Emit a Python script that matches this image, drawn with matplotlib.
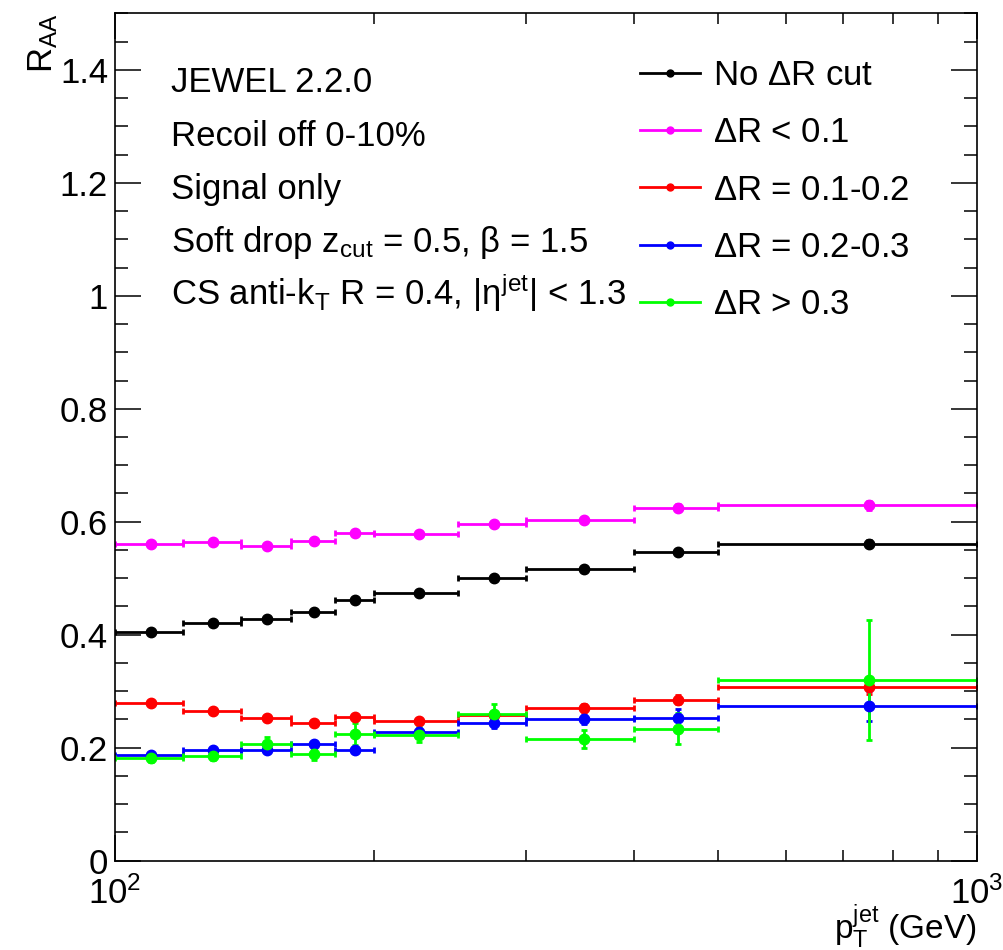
import matplotlib
matplotlib.use("Agg")
import matplotlib.pyplot as plt
import numpy as np
from matplotlib.lines import Line2D
from matplotlib.ticker import FixedLocator, MultipleLocator, FormatStrFormatter, LogLocator, NullFormatter

plt.rcParams['font.family'] = ['Liberation Sans', 'DejaVu Sans']
plt.rcParams['mathtext.fontset'] = 'custom'
plt.rcParams['mathtext.rm'] = 'Liberation Sans'
plt.rcParams['mathtext.it'] = 'Liberation Sans'
plt.rcParams['mathtext.bf'] = 'Liberation Sans:bold'

# pT bins (GeV)
bin_edges = [100, 120, 140, 160, 180, 200, 250, 300, 400, 500, 1000]

# R_AA per bin
no_cut = [0.405, 0.420, 0.427, 0.441, 0.461, 0.473, 0.500, 0.517, 0.547, 0.561]
no_cut_err = [0.002, 0.002, 0.002, 0.003, 0.003, 0.003, 0.003, 0.004, 0.005, 0.006]
dr_lt01 = [0.560, 0.564, 0.557, 0.566, 0.580, 0.579, 0.596, 0.603, 0.625, 0.629]
dr_lt01_err = [0.003, 0.003, 0.003, 0.004, 0.004, 0.004, 0.004, 0.005, 0.006, 0.008]
dr_01_02 = [0.280, 0.265, 0.252, 0.243, 0.254, 0.247, 0.258, 0.270, 0.285, 0.307]
dr_01_02_err = [0.004, 0.004, 0.004, 0.005, 0.005, 0.005, 0.006, 0.007, 0.008, 0.012]
dr_02_03 = [0.187, 0.196, 0.196, 0.206, 0.196, 0.228, 0.243, 0.250, 0.253, 0.274]
dr_02_03_err = [0.004, 0.004, 0.005, 0.006, 0.006, 0.007, 0.008, 0.008, 0.015, 0.026]
dr_gt03 = [0.181, 0.185, 0.207, 0.188, 0.224, 0.223, 0.259, 0.215, 0.234, 0.320]
dr_gt03_err = [0.006, 0.007, 0.012, 0.009, 0.019, 0.013, 0.018, 0.016, 0.027, 0.106]

series = [
    ('No $\\Delta$R cut', no_cut, no_cut_err, 'black'),
    ('$\\Delta$R < 0.1', dr_lt01, dr_lt01_err, '#ff00ff'),
    ('$\\Delta$R = 0.1-0.2', dr_01_02, dr_01_02_err, '#ff0000'),
    ('$\\Delta$R = 0.2-0.3', dr_02_03, dr_02_03_err, '#0000ff'),
    ('$\\Delta$R > 0.3', dr_gt03, dr_gt03_err, '#00ff00'),
]

edges = np.array(bin_edges, dtype=float)
centers = 0.5 * (edges[:-1] + edges[1:])
xerr = [centers - edges[:-1], edges[1:] - centers]

W, H = 1004, 950
fig = plt.figure(figsize=(W / 100, H / 100), dpi=100)
ax = fig.add_axes([115 / W, 1 - 860.7 / H, (977 - 115) / W, (860.7 - 13.3) / H])

handles = []
for label, vals, errs, col in series:
    ax.errorbar(centers, vals, xerr=xerr, yerr=errs, fmt='o', color=col,
                ms=7.5, elinewidth=2, capsize=2, capthick=2)
    handles.append(Line2D([], [], color=col, lw=2, marker='o', ms=5, label=label))

ax.set_xscale('log')
ax.set_xlim(100, 1000)
ax.set_ylim(0, 1.5)

ax.xaxis.set_major_locator(FixedLocator([100, 1000]))
ax.xaxis.set_minor_locator(LogLocator(base=10, subs=np.arange(2, 10)))
ax.xaxis.set_minor_formatter(NullFormatter())
ax.yaxis.set_major_locator(MultipleLocator(0.2))
ax.yaxis.set_minor_locator(MultipleLocator(0.05))
ax.yaxis.set_major_formatter(FormatStrFormatter('%g'))

ax.tick_params(which='both', direction='in', top=True, right=True, width=1.1)
ax.tick_params(axis='y', which='major', length=19, labelsize=25, pad=5)
ax.tick_params(axis='y', which='minor', length=9.5)
ax.tick_params(axis='x', which='major', length=19, labelsize=25, pad=11)
ax.tick_params(axis='x', which='minor', length=8)
for s in ax.spines.values():
    s.set_linewidth(1.2)

ax.set_ylabel('R$_{AA}$', fontsize=25, loc='top')
ax.yaxis.set_label_coords(-0.064, 1.0)
ax.set_xlabel('p$_{T}^{jet}$ (GeV)', fontsize=24, loc='right')
ax.xaxis.set_label_coords(1.0, -0.050)

info_lines = [
    'JEWEL 2.2.0',
    'Recoil off 0-10%',
    'Signal only',
    'Soft drop z$_{cut}$ = 0.5, $\\beta$ = 1.5',
    'CS anti-k$_{T}$ R = 0.4, |$\\eta^{jet}$| < 1.3',
]
baselines = [92, 145.5, 199, 252, 305.5]
for txt, yb in zip(info_lines, baselines):
    fig.text(171 / W, 1 - yb / H, txt, fontsize=25, va='baseline', ha='left')

ax.legend(handles=handles, loc='upper left', bbox_to_anchor=(640 / W, 1 - 59 / H),
          bbox_transform=fig.transFigure, frameon=False, fontsize=25,
          handlelength=1.73, handletextpad=0.37, labelspacing=0.7,
          borderpad=0, borderaxespad=0)

fig.savefig('out.png', dpi=100)
